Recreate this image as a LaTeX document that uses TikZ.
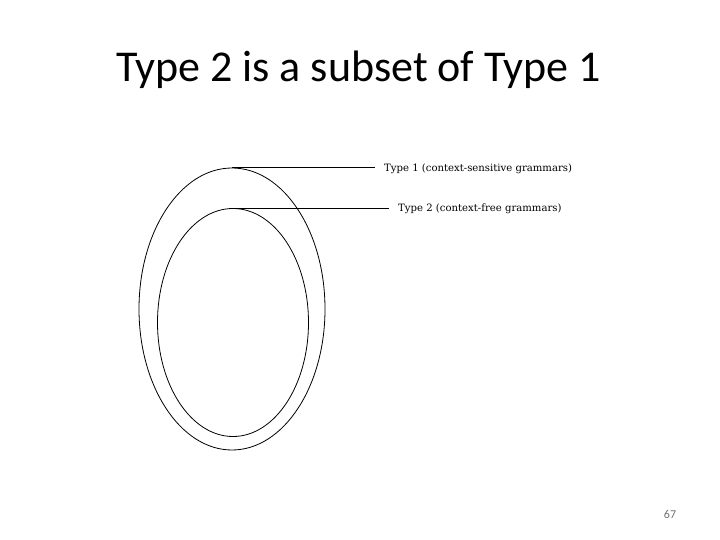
\documentclass[tikz,border=0pt]{standalone}
\usepackage{fontspec}
\setmainfont{Carlito}
\newfontfamily\lblfont{DejaVu Serif}
\usetikzlibrary{shapes.geometric}
\begin{document}
\begin{tikzpicture}[x=1pt,y=-1pt,
  set/.style={draw=black,line width=0.8pt,ellipse,inner sep=0pt},
  lbl/.style={font=\lblfont\fontsize{10.1}{12}\selectfont,anchor=west,inner xsep=9pt,inner ysep=1pt},
  conn/.style={draw=black,line width=0.8pt}]
\useasboundingbox (0,0) rectangle (720,540);
\fill[white] (0,0) rectangle (720,540);
\node[font=\fontsize{44}{52}\selectfont,anchor=base] (title) at (358.5,81.7) {Type 2 is a subset of Type 1};
\node[set,minimum width=186pt,minimum height=282pt] (outer) at (232,309) {};
\node[set,minimum width=151pt,minimum height=228pt] (inner) at (233,322.5) {};
\node[lbl] (l1) at (375,169) {Type 1 (context-sensitive grammars)};
\node[lbl] (l2) at (389,209) {Type 2 (context-free grammars)};
\draw[conn] (outer.north) -- (l1.west |- outer.north);
\draw[conn] (inner.north) -- (l2.west |- inner.north);
\node[font=\fontsize{12}{14}\selectfont,text=black!55,anchor=base] (pg) at (670,518.3) {67};
\end{tikzpicture}
\end{document}
